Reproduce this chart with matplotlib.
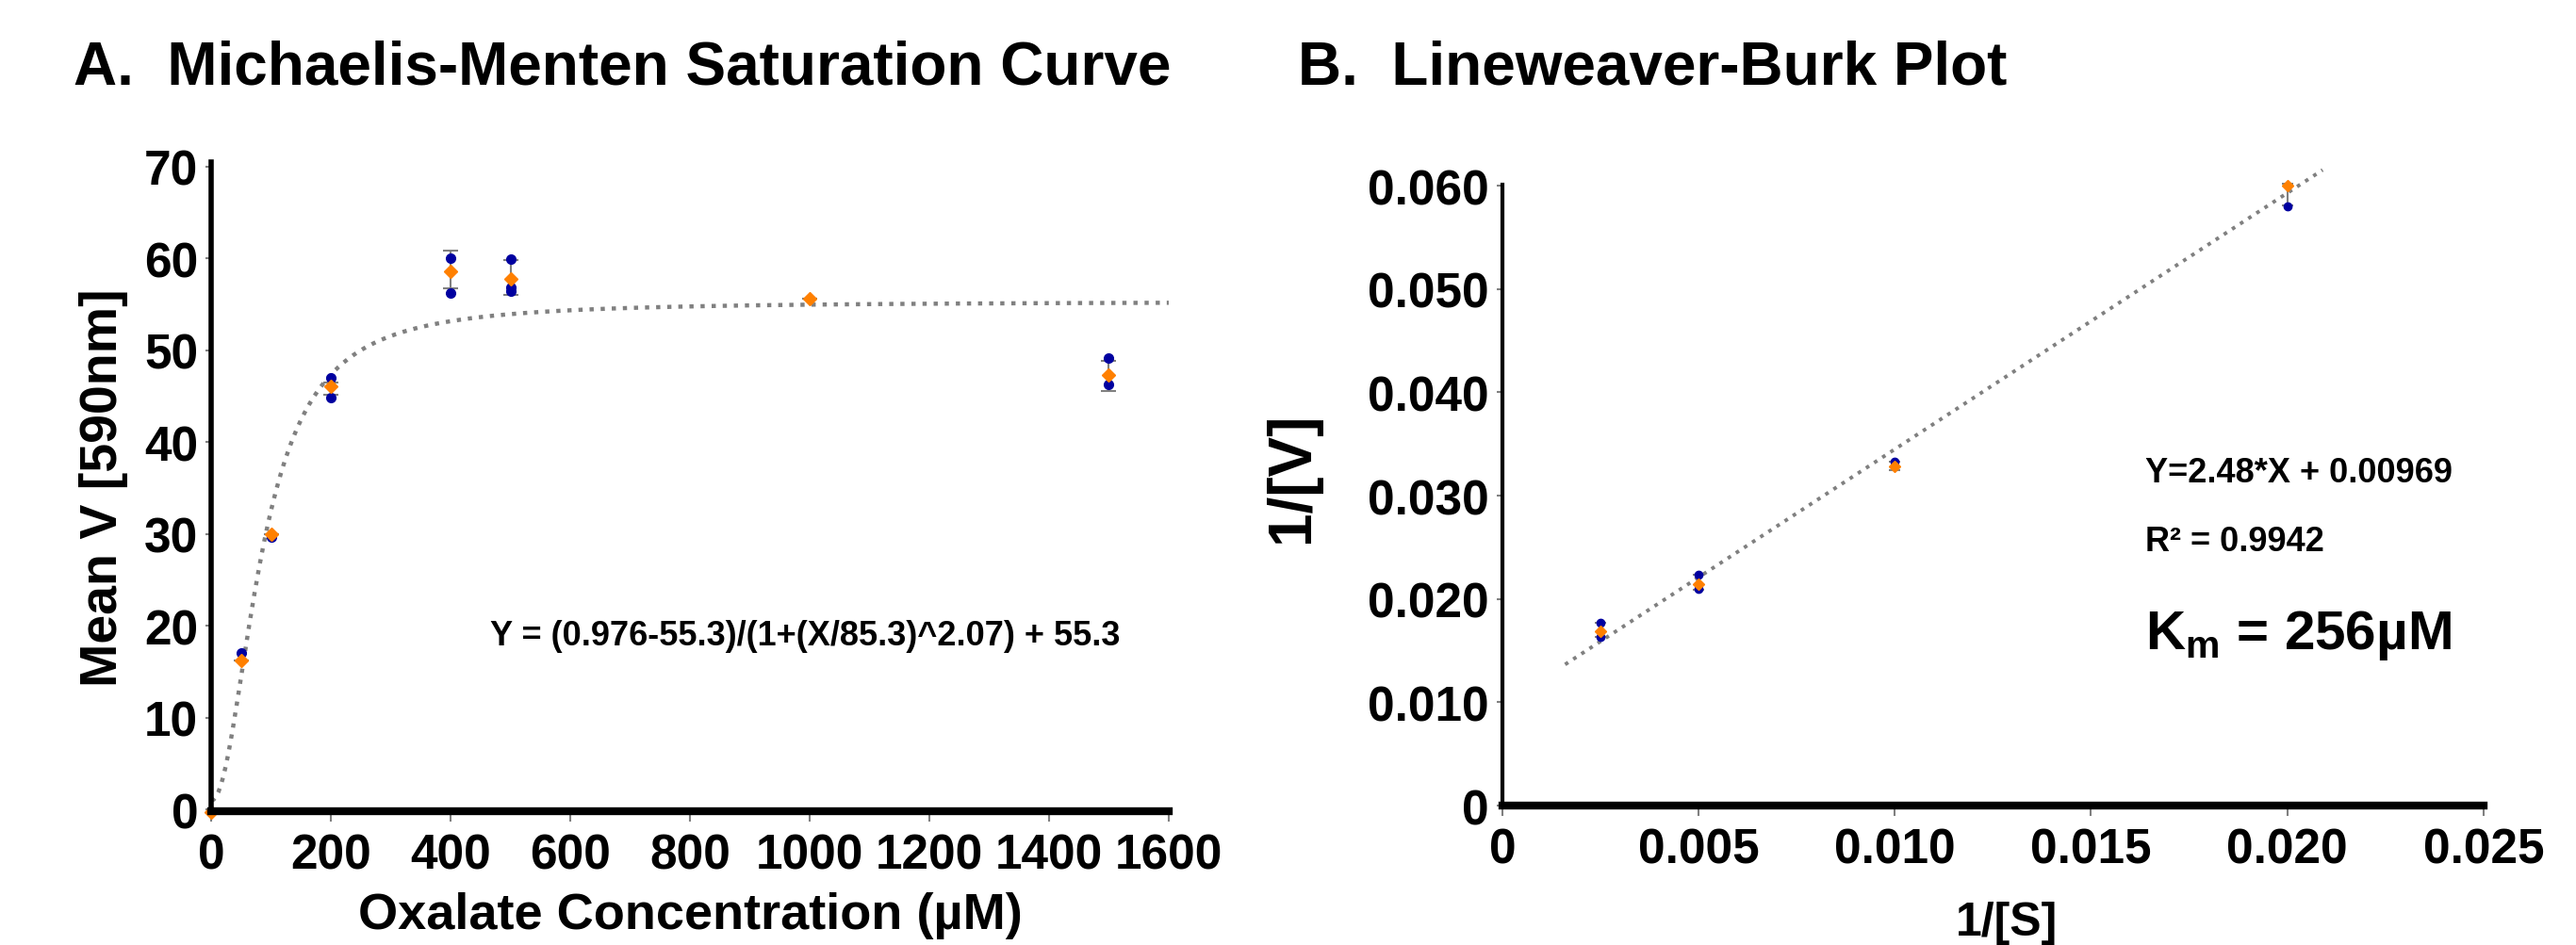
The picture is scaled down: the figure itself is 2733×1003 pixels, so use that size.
import matplotlib
matplotlib.use("Agg")
import matplotlib.pyplot as plt
import numpy as np

# ---- panel A data (Michaelis-Menten) ----
conc = [0, 50, 100, 200, 400, 500, 1000, 1500]
mean_v = [-0.3, 16.2, 30.0, 46.1, 58.6, 57.8, 55.6, 47.3]
err_lo = [0.0, 0.0, 0.0, 0.9, 1.9, 1.8, 0.0, 1.7]
err_hi = [0.0, 0.0, 0.0, 0.4, 2.3, 2.0, 0.0, 1.6]
rep_x = [50, 100, 200, 200, 400, 400, 500, 500, 500, 1500, 1500]
rep_v = [17.0, 29.7, 47.0, 44.8, 60.0, 56.2, 59.9, 56.9, 56.4, 49.2, 46.3]
fit_bottom, fit_top, fit_ec50, fit_hill = 0.976, 55.3, 85.3, 2.07

# ---- panel B data (Lineweaver-Burk) ----
inv_s = [0.0025, 0.005, 0.01, 0.02]
inv_v = [0.0169, 0.0214, 0.0328, 0.0600]
inv_err_lo = [0.0006, 0.0005, 0.0003, 0.0019]
inv_err_hi = [0.0008, 0.0009, 0.0005, 0.0002]
rep_inv_s = [0.0025, 0.0025, 0.005, 0.005, 0.01, 0.02]
rep_inv_v = [0.0177, 0.0163, 0.0223, 0.0210, 0.0333, 0.0580]
slope, intercept = 2.48, 0.00969
line_x = [0.0016, 0.0209]

plt.rcParams["font.family"] = ["Liberation Sans", "DejaVu Sans"]
plt.rcParams["font.weight"] = "bold"
plt.rcParams["axes.labelweight"] = "bold"
plt.rcParams["mathtext.fontset"] = "custom"
plt.rcParams["mathtext.rm"] = "Liberation Sans:bold"
plt.rcParams["mathtext.it"] = "Liberation Sans:bold"

ORANGE = "#FF8000"
BLUE = "#0000A0"
GREY = "#808080"

fig = plt.figure(figsize=(27.33, 10.04), dpi=100)

# ---------------- panel A ----------------
ax1 = fig.add_axes([0.0820, 0.1414, 0.3717, 0.6863])
xs = np.linspace(0, 1600, 400)
ys = (fit_bottom - fit_top) / (1 + (xs / fit_ec50) ** fit_hill) + fit_top
ax1.plot(xs, ys, ls=":", color=GREY, lw=3.2)
ax1.errorbar(conc, mean_v, yerr=[err_lo, err_hi], fmt="none", ecolor=GREY,
             elinewidth=1.5, capsize=6, capthick=1.5)
ax1.plot(rep_x, rep_v, "o", color=BLUE, ms=7, ls="none")
ax1.plot(conc, mean_v, "D", color=ORANGE, ms=7, ls="none", clip_on=False)
ax1.set_xlim(0, 1600)
ax1.set_ylim(-0.2, 70.5)
ax1.set_xticks(range(0, 1601, 200))
ax1.set_yticks(range(0, 71, 10))
ax1.set_xlabel("Oxalate Concentration (µM)", fontsize=39, labelpad=10)
ax1.set_ylabel("Mean V [590nm]", fontsize=40, labelpad=12)
ax1.text(0.62, 0.27, "Y = (0.976-55.3)/(1+(X/85.3)^2.07) + 55.3",
         transform=ax1.transAxes, fontsize=26, ha="center", va="center")

# ---------------- panel B ----------------
ax2 = fig.add_axes([0.5832, 0.1474, 0.3809, 0.6564])
lx = np.array(line_x)
ax2.plot(lx, slope * lx + intercept, ls=":", color=GREY, lw=2.8, clip_on=False)
ax2.errorbar(inv_s, inv_v, yerr=[inv_err_lo, inv_err_hi], fmt="none", ecolor=GREY,
             elinewidth=1.5, capsize=4, capthick=1.5, clip_on=False)
ax2.plot(rep_inv_s, rep_inv_v, "o", color=BLUE, ms=6, ls="none", clip_on=False)
ax2.plot(inv_s, inv_v, "D", color=ORANGE, ms=6, ls="none", clip_on=False)
ax2.set_xlim(0, 0.025)
ax2.set_ylim(0, 0.0601)
ax2.set_xticks([0, 0.005, 0.010, 0.015, 0.020, 0.025])
ax2.set_xticklabels(["0", "0.005", "0.010", "0.015", "0.020", "0.025"])
ax2.set_yticks([0, 0.01, 0.02, 0.03, 0.04, 0.05, 0.06])
ax2.set_yticklabels(["0", "0.010", "0.020", "0.030", "0.040", "0.050", "0.060"])
ax2.set_ylabel("1/[V]", fontsize=46, labelpad=8)
ax2.yaxis.set_label_coords(-0.185, 0.53)
ax2.text(0.655, 0.536, "Y=2.48*X + 0.00969", transform=ax2.transAxes,
         fontsize=26, ha="left", va="center")
ax2.text(0.655, 0.425, "R² = 0.9942", transform=ax2.transAxes,
         fontsize=26, ha="left", va="center")
ax2.text(0.655, 0.275, r"K$_\mathrm{m}$ = 256µM", transform=ax2.transAxes,
         fontsize=42, ha="left", va="center")

for ax in (ax1, ax2):
    for side in ("top", "right"):
        ax.spines[side].set_visible(False)
    ax.spines["left"].set_linewidth(4)
    ax.spines["bottom"].set_linewidth(6)
    ax.tick_params(axis="x", labelsize=37, length=8, width=1.5, color=GREY, pad=8)
    ax.tick_params(axis="y", labelsize=37, length=4, width=1.5, color=GREY, pad=6)
ax2.spines["left"].set_linewidth(3)

# x label of panel B sits at the very bottom edge of the figure
fig.text(0.779, 1 - 957 / 1004, "1/[S]", fontsize=36, ha="center", va="top")

fig.text(0.0285, 0.928, "A.  Michaelis-Menten Saturation Curve",
         fontsize=46, ha="left", va="center")
fig.text(0.504, 0.928, "B.  Lineweaver-Burk Plot",
         fontsize=46, ha="left", va="center")

fig.savefig("out.png", dpi=100)
